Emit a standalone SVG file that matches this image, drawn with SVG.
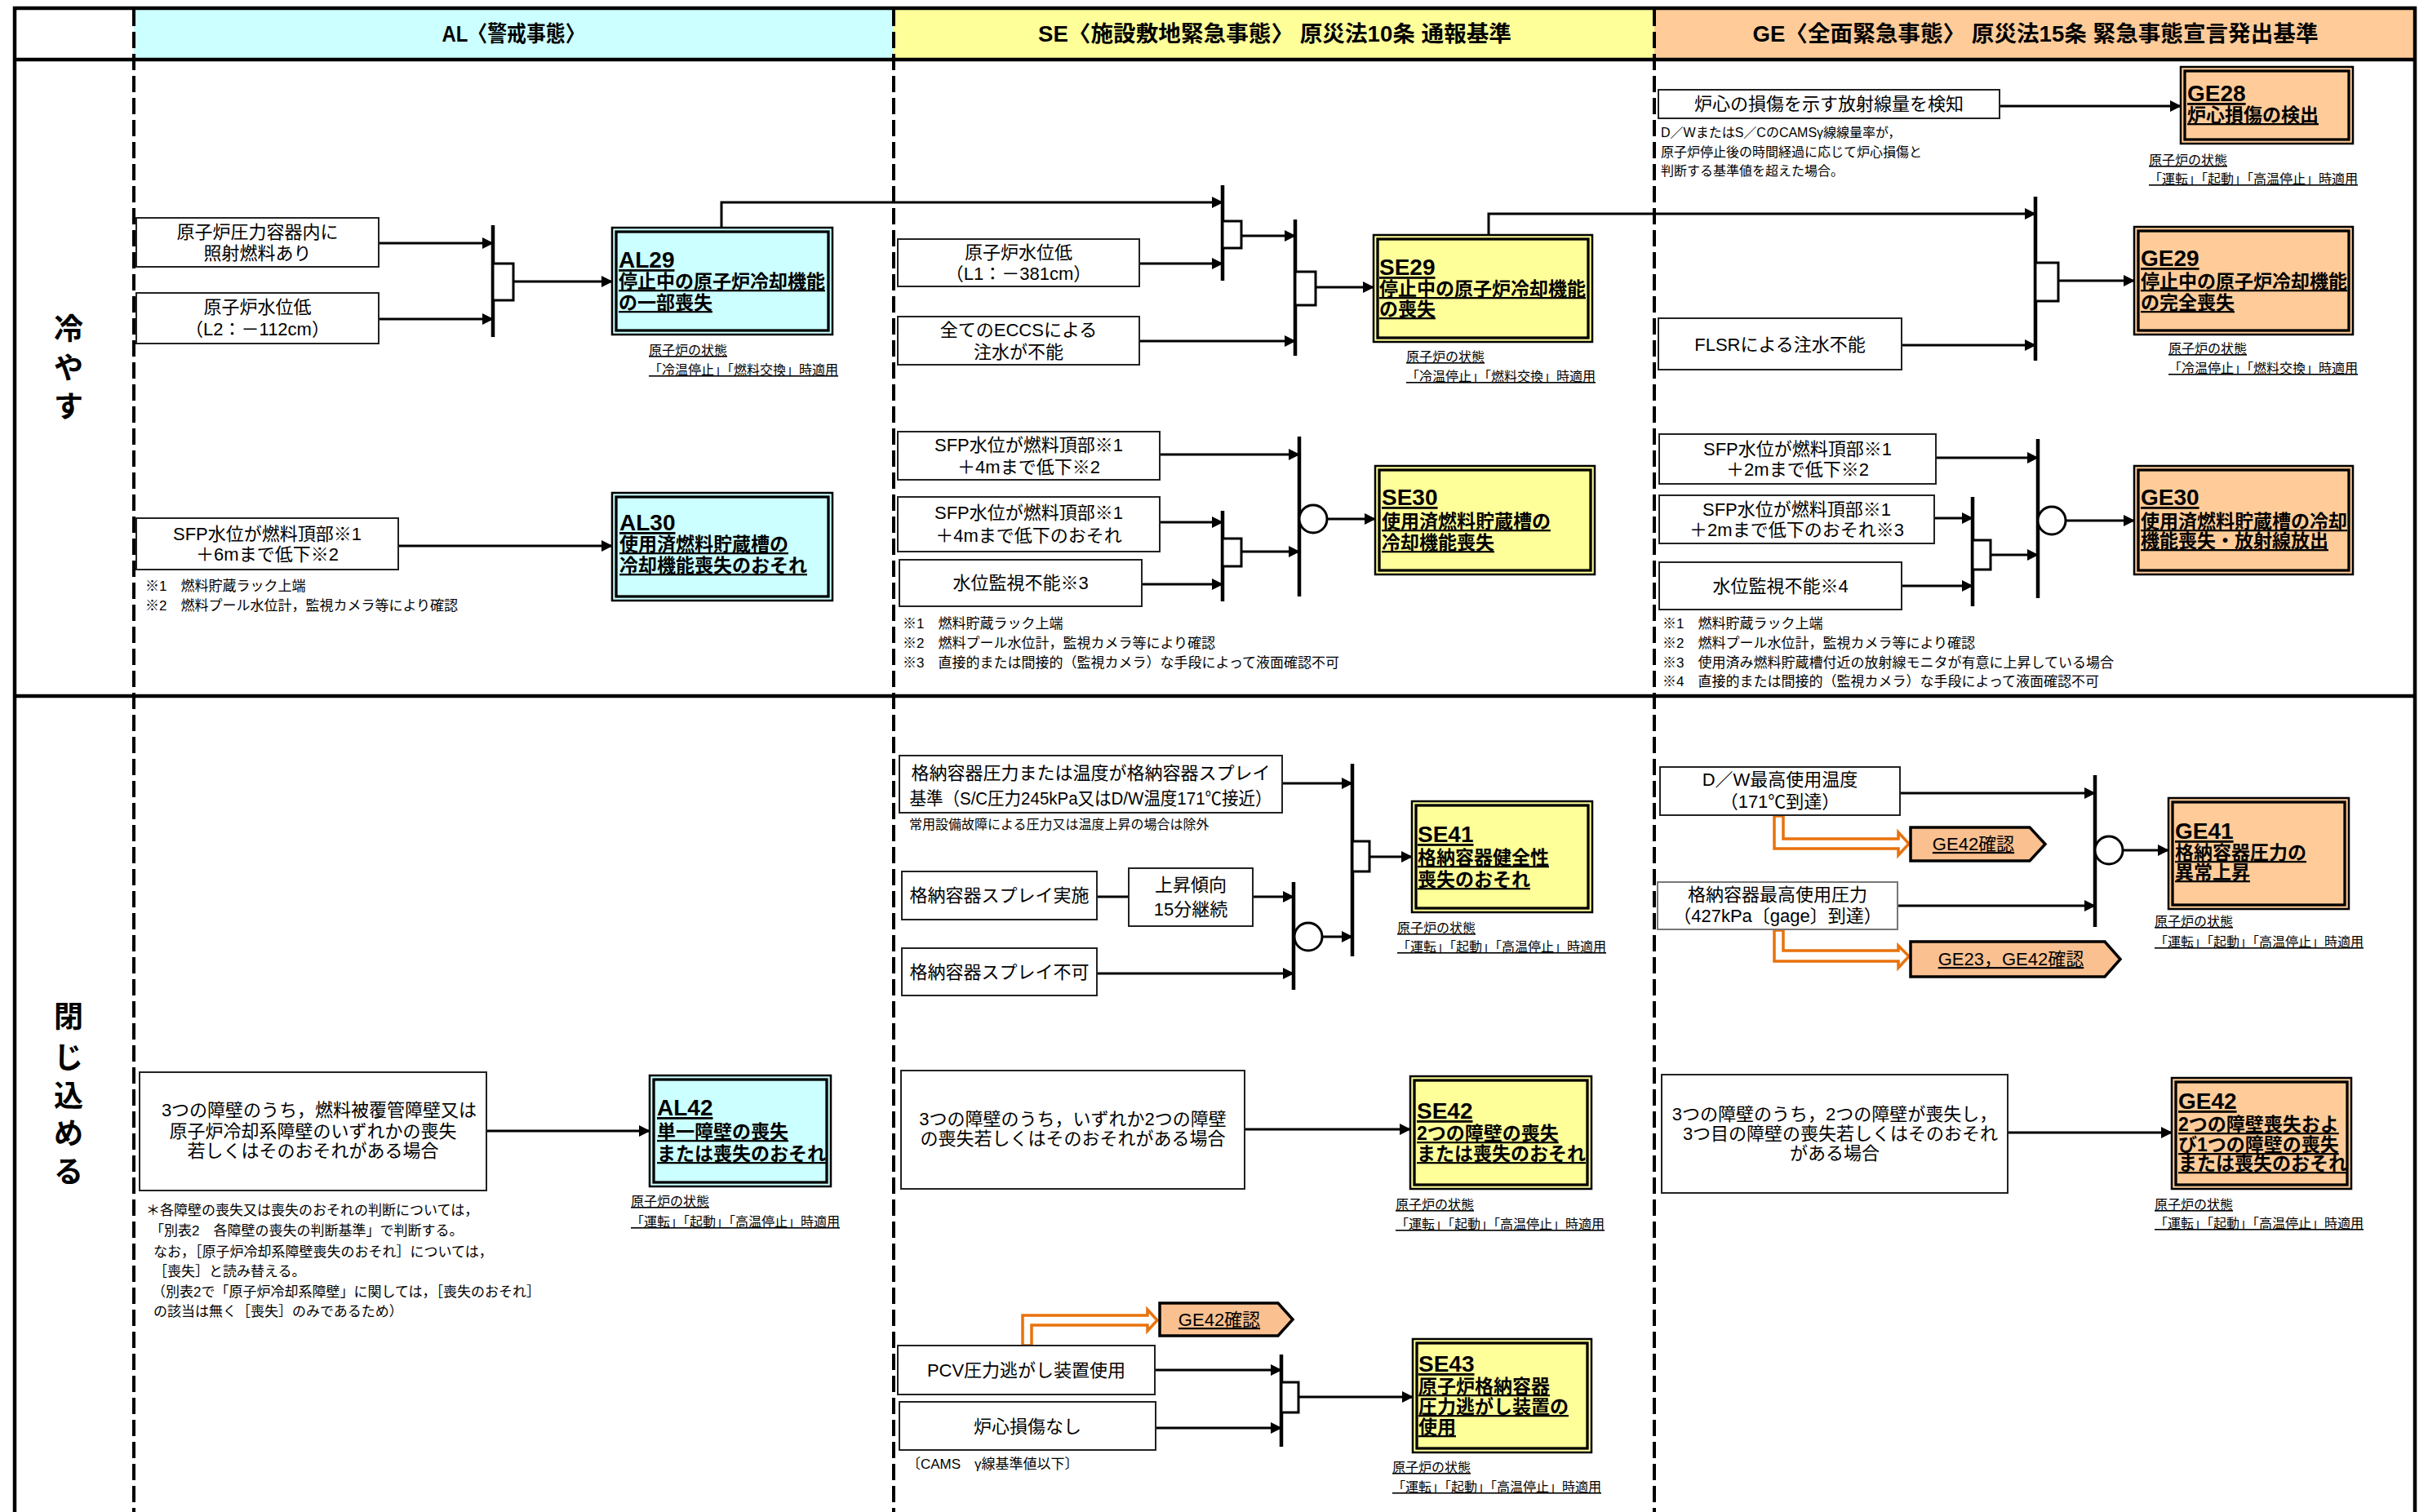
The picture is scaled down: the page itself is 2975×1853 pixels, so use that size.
<svg xmlns="http://www.w3.org/2000/svg" width="2975" height="1853" viewBox="0 0 2975 1853">
<defs>
<style>
text{font-family:"Liberation Sans","Noto Sans CJK JP",sans-serif;fill:#000}
.hd{font-size:27px;font-weight:bold;text-anchor:middle}
.side{font-size:36px;font-weight:bold;text-anchor:middle}
.bx{fill:#fff;stroke:#222;stroke-width:2}
.t{font-size:22px;text-anchor:middle}
.ttl{font-size:28px;font-weight:bold;text-decoration:underline}
.tl{font-size:23px;font-weight:bold;text-decoration:underline}
.lab{font-size:16px;text-decoration:underline}
.fn{font-size:17px}
.al{fill:#CCFFFF}
.se{fill:#FFFF99}
.ge{fill:#FFCC99}
.ev{stroke:#000;stroke-width:2.5}
.evi{fill:none;stroke:#000;stroke-width:3.3}
.ln{stroke:#000;stroke-width:3;fill:none}
.ar{stroke:#000;stroke-width:3;fill:none;marker-end:url(#ah)}
.bar{stroke:#000;stroke-width:4.5}
.gate{fill:#fff;stroke:#000;stroke-width:3}
.oa{fill:#fff;stroke:#E8720C;stroke-width:3.5;stroke-linejoin:miter}
.tag{fill:#FAC090;stroke:#000;stroke-width:3.5}
.tagt{font-size:22px;text-anchor:middle;text-decoration:underline}
.frame{stroke:#000;stroke-width:4.5;fill:none}
.dash{stroke:#000;stroke-width:4;stroke-dasharray:20 7;fill:none}
</style>
<marker id="ah" markerUnits="userSpaceOnUse" markerWidth="14" markerHeight="14" refX="13" refY="7" orient="auto"><path d="M0,0 L14,7 L0,14 z" fill="#000"/></marker>
</defs>
<rect width="2975" height="1853" fill="#fff"/>
<g id="header">
<rect x="164" y="12" width="931" height="61" class="al"/>
<rect x="1095" y="12" width="932" height="61" class="se"/>
<rect x="2027" y="12" width="932" height="61" class="ge"/>
<text class="hd" x="629" y="51" textLength="175" lengthAdjust="spacingAndGlyphs">AL〈警戒事態〉</text>
<text class="hd" x="1562" y="51" textLength="580" lengthAdjust="spacingAndGlyphs">SE〈施設敷地緊急事態〉 原災法10条 通報基準</text>
<text class="hd" x="2494" y="51" textLength="693" lengthAdjust="spacingAndGlyphs">GE〈全面緊急事態〉 原災法15条 緊急事態宣言発出基準</text>
</g>
<g id="frame">
<line class="frame" x1="16" y1="10" x2="2961" y2="10"/>
<line class="frame" x1="16" y1="73" x2="2961" y2="73"/>
<line class="frame" x1="18" y1="8" x2="18" y2="1853"/>
<line class="frame" x1="2959" y1="8" x2="2959" y2="1853"/>
<line class="frame" x1="16" y1="853" x2="2961" y2="853"/>
<line class="dash" x1="164" y1="12" x2="164" y2="1853"/>
<line class="dash" x1="1095" y1="12" x2="1095" y2="1853"/>
<line class="dash" x1="2027" y1="12" x2="2027" y2="1853"/>
<text class="side" x="84" y="416">冷</text>
<text class="side" x="84" y="464">や</text>
<text class="side" x="84" y="511">す</text>
<text class="side" x="84" y="1259">閉</text>
<text class="side" x="84" y="1309">じ</text>
<text class="side" x="84" y="1356">込</text>
<text class="side" x="84" y="1402">め</text>
<text class="side" x="84" y="1449">る</text>
</g>

<g id="connectors">
<line class="ar" x1="464" y1="298" x2="604" y2="298"/>
<line class="ar" x1="464" y1="391" x2="604" y2="391"/>
<line class="ar" x1="629" y1="345" x2="750" y2="345"/>
<polyline class="ar" points="884,280 884,248 1498,248"/>
<line class="ar" x1="1396" y1="323" x2="1498" y2="323"/>
<line class="ar" x1="1521" y1="289" x2="1587" y2="289"/>
<line class="ar" x1="1396" y1="418" x2="1587" y2="418"/>
<line class="ar" x1="1612" y1="352" x2="1683" y2="352"/>
<polyline class="ar" points="1824,288 1824,262 2494,262"/>
<line class="ar" x1="2330" y1="423" x2="2494" y2="423"/>
<line class="ar" x1="2522" y1="344" x2="2615" y2="344"/>
<line class="ar" x1="2450" y1="130" x2="2672" y2="130"/>
<line class="ar" x1="488" y1="669" x2="750" y2="669"/>
<line class="ar" x1="1421" y1="557" x2="1592" y2="557"/>
<line class="ar" x1="1421" y1="640" x2="1498" y2="640"/>
<line class="ar" x1="1399" y1="716" x2="1498" y2="716"/>
<line class="ar" x1="1521" y1="676" x2="1592" y2="676"/>
<line class="ar" x1="1626" y1="636" x2="1685" y2="636"/>
<line class="ar" x1="2372" y1="561" x2="2497" y2="561"/>
<line class="ar" x1="2370" y1="635" x2="2417" y2="635"/>
<line class="ar" x1="2330" y1="718" x2="2417" y2="718"/>
<line class="ar" x1="2439" y1="680" x2="2497" y2="680"/>
<line class="ar" x1="2530" y1="638" x2="2615" y2="638"/>
<line class="ar" x1="1571" y1="960" x2="1657" y2="960"/>
<line class="ln" x1="1344" y1="1099" x2="1383" y2="1099"/>
<line class="ar" x1="1535" y1="1099" x2="1585" y2="1099"/>
<line class="ar" x1="1344" y1="1193" x2="1585" y2="1193"/>
<line class="ar" x1="1620" y1="1148" x2="1657" y2="1148"/>
<line class="ar" x1="1678" y1="1050" x2="1730" y2="1050"/>
<line class="ar" x1="2328" y1="972" x2="2567" y2="972"/>
<line class="ar" x1="2325" y1="1110" x2="2567" y2="1110"/>
<line class="ar" x1="2601" y1="1042" x2="2657" y2="1042"/>
<line class="ar" x1="596" y1="1386" x2="796" y2="1386"/>
<line class="ar" x1="1525" y1="1384" x2="1728" y2="1384"/>
<line class="ar" x1="1415" y1="1679" x2="1570" y2="1679"/>
<line class="ar" x1="1416" y1="1750" x2="1570" y2="1750"/>
<line class="ar" x1="1591" y1="1712" x2="1731" y2="1712"/>
<line class="ar" x1="2460" y1="1388" x2="2661" y2="1388"/>
<polygon class="oa" points="2174,1000 2185,1000 2185,1028 2326,1028 2326,1020 2339,1034 2326,1048 2326,1040 2174,1040"/>
<polygon class="oa" points="2174,1140 2185,1140 2185,1165 2326,1165 2326,1159 2339,1172 2326,1186 2326,1178 2174,1178"/>
<polygon class="oa" points="1253,1649 1253,1612 1406,1612 1406,1605 1418,1618 1406,1631 1406,1624 1264,1624 1264,1649"/>
</g>

<g id="gates">
<line class="bar" x1="604" y1="276" x2="604" y2="413"/><rect class="gate" x="604" y="323" width="25" height="45"/>
<line class="bar" x1="1498" y1="227" x2="1498" y2="344"/><rect class="gate" x="1498" y="271" width="23" height="33"/>
<line class="bar" x1="1587" y1="269" x2="1587" y2="436"/><rect class="gate" x="1587" y="333" width="25" height="41"/>
<line class="bar" x1="2494" y1="241" x2="2494" y2="442"/><rect class="gate" x="2494" y="322" width="28" height="47"/>
<line class="bar" x1="1498" y1="626" x2="1498" y2="737"/><rect class="gate" x="1498" y="660" width="23" height="34"/>
<line class="bar" x1="1592" y1="535" x2="1592" y2="731"/><circle class="gate" cx="1609" cy="636" r="17"/>
<line class="bar" x1="2417" y1="609" x2="2417" y2="743"/><rect class="gate" x="2417" y="662" width="22" height="36"/>
<line class="bar" x1="2497" y1="538" x2="2497" y2="733"/><circle class="gate" cx="2514" cy="638" r="17"/>
<line class="bar" x1="1657" y1="936" x2="1657" y2="1172"/><rect class="gate" x="1657" y="1031" width="21" height="37"/>
<line class="bar" x1="1585" y1="1081" x2="1585" y2="1213"/><circle class="gate" cx="1603" cy="1148" r="17"/>
<line class="bar" x1="2567" y1="950" x2="2567" y2="1136"/><circle class="gate" cx="2584" cy="1042" r="17"/>
<line class="bar" x1="1570" y1="1660" x2="1570" y2="1773"/><rect class="gate" x="1570" y="1694" width="21" height="37"/>
</g>

<g id="A1"><rect class="bx" x="167" y="267" width="297" height="60"/><text class="t"><tspan x="315.5" y="292">原子炉圧力容器内に</tspan><tspan x="315.5" y="318">照射燃料あり</tspan></text></g>
<g id="A2"><rect class="bx" x="167" y="359" width="297" height="62"/><text class="t"><tspan x="315.5" y="384">原子炉水位低</tspan><tspan x="315.5" y="411">（L2：－112cm）</tspan></text></g>
<g id="AL29"><rect class="ev al" x="750" y="279" width="270" height="131"/><rect class="evi" x="755" y="284" width="260" height="121"/>
<text class="ttl" x="758" y="328">AL29</text><text class="tl" x="758" y="353">停止中の原子炉冷却機能</text><text class="tl" x="758" y="379">の一部喪失</text>
<text class="lab" x="795" y="435">原子炉の状態</text><text class="lab" x="795" y="459">「冷温停止」「燃料交換」時適用</text></g>
<g id="A3"><rect class="bx" x="167" y="635" width="321" height="63"/><text class="t"><tspan x="327.5" y="662">SFP水位が燃料頂部※1</tspan><tspan x="327.5" y="687">＋6mまで低下※2</tspan></text></g>
<g id="AL30"><rect class="ev al" x="750" y="604" width="270" height="132"/><rect class="evi" x="755" y="609" width="260" height="122"/>
<text class="ttl" x="759" y="650">AL30</text><text class="tl" x="759" y="675">使用済燃料貯蔵槽の</text><text class="tl" x="759" y="701">冷却機能喪失のおそれ</text></g>
<g id="AL-notes1"><text class="fn" x="178" y="724">※1　燃料貯蔵ラック上端</text><text class="fn" x="178" y="748">※2　燃料プール水位計，監視カメラ等により確認</text></g>
<g id="A4"><rect class="bx" x="171" y="1314" width="425" height="145"/><text class="t"><tspan x="391" y="1368">3つの障壁のうち，燃料被覆管障壁又は</tspan><tspan x="383.5" y="1394">原子炉冷却系障壁のいずれかの喪失</tspan><tspan x="383.5" y="1418">若しくはそのおそれがある場合</tspan></text></g>
<g id="AL42"><rect class="ev al" x="796" y="1318" width="222" height="136"/><rect class="evi" x="801" y="1323" width="212" height="126"/>
<text class="ttl" x="805" y="1367">AL42</text><text class="tl" x="805" y="1395">単一障壁の喪失</text><text class="tl" x="805" y="1422">または喪失のおそれ</text>
<text class="lab" x="773" y="1478">原子炉の状態</text><text class="lab" x="773" y="1503">「運転」「起動」「高温停止」時適用</text></g>
<g id="AL-notes2"><text class="fn" x="179" y="1489">＊各障壁の喪失又は喪失のおそれの判断については，</text><text class="fn" x="184" y="1514">「別表2　各障壁の喪失の判断基準」で判断する。</text><text class="fn" x="188" y="1540">なお，［原子炉冷却系障壁喪失のおそれ］については，</text><text class="fn" x="188" y="1564">［喪失］と読み替える。</text><text class="fn" x="186" y="1589">（別表2で「原子炉冷却系障壁」に関しては，［喪失のおそれ］</text><text class="fn" x="188" y="1613">の該当は無く［喪失］のみであるため）</text></g>

<g id="S1"><rect class="bx" x="1100" y="293" width="296" height="58"/><text class="t"><tspan x="1248" y="317">原子炉水位低</tspan><tspan x="1248" y="343">（L1：－381cm）</tspan></text></g>
<g id="S2"><rect class="bx" x="1100" y="388" width="296" height="59"/><text class="t"><tspan x="1248" y="412">全てのECCSによる</tspan><tspan x="1248" y="439">注水が不能</tspan></text></g>
<g id="SE29"><rect class="ev se" x="1683" y="288" width="268" height="131"/><rect class="evi" x="1688" y="293" width="258" height="121"/>
<text class="ttl" x="1690" y="337">SE29</text><text class="tl" x="1690" y="362">停止中の原子炉冷却機能</text><text class="tl" x="1690" y="387">の喪失</text>
<text class="lab" x="1723" y="443">原子炉の状態</text><text class="lab" x="1723" y="467">「冷温停止」「燃料交換」時適用</text></g>
<g id="S3"><rect class="bx" x="1100" y="529" width="321" height="59"/><text class="t"><tspan x="1260.5" y="553">SFP水位が燃料頂部※1</tspan><tspan x="1260.5" y="580">＋4mまで低下※2</tspan></text></g>
<g id="S4"><rect class="bx" x="1100" y="609" width="321" height="67"/><text class="t"><tspan x="1260.5" y="636">SFP水位が燃料頂部※1</tspan><tspan x="1260.5" y="664">＋4mまで低下のおそれ</tspan></text></g>
<g id="S5"><rect class="bx" x="1102" y="686" width="297" height="57"/><text class="t" x="1250.5" y="722">水位監視不能※3</text></g>
<g id="SE30"><rect class="ev se" x="1685" y="571" width="269" height="133"/><rect class="evi" x="1690" y="576" width="259" height="123"/>
<text class="ttl" x="1693" y="619">SE30</text><text class="tl" x="1693" y="647">使用済燃料貯蔵槽の</text><text class="tl" x="1693" y="673">冷却機能喪失</text></g>
<g id="SE-notes1"><text class="fn" x="1106" y="770">※1　燃料貯蔵ラック上端</text><text class="fn" x="1106" y="794">※2　燃料プール水位計，監視カメラ等により確認</text><text class="fn" x="1106" y="818">※3　直接的または間接的（監視カメラ）な手段によって液面確認不可</text></g>
<g id="S6"><rect class="bx" x="1102" y="926" width="469" height="70"/><text class="t" x="1336.5" y="955">格納容器圧力または温度が格納容器スプレイ</text><text class="t" x="1336.5" y="986" textLength="444" lengthAdjust="spacingAndGlyphs">基準（S/C圧力245kPa又はD/W温度171℃接近）</text>
<text class="fn" x="1114" y="1016" style="font-size:16px">常用設備故障による圧力又は温度上昇の場合は除外</text></g>
<g id="S7"><rect class="bx" x="1105" y="1068" width="239" height="59"/><text class="t" x="1224.5" y="1105">格納容器スプレイ実施</text></g>
<g id="S8"><rect class="bx" x="1383" y="1064" width="152" height="71"/><text class="t"><tspan x="1459" y="1092">上昇傾向</tspan><tspan x="1459" y="1122">15分継続</tspan></text></g>
<g id="S9"><rect class="bx" x="1105" y="1162" width="239" height="58"/><text class="t" x="1224.5" y="1199">格納容器スプレイ不可</text></g>
<g id="SE41"><rect class="ev se" x="1730" y="982" width="221" height="136"/><rect class="evi" x="1735" y="987" width="211" height="126"/>
<text class="ttl" x="1737" y="1032">SE41</text><text class="tl" x="1737" y="1059">格納容器健全性</text><text class="tl" x="1737" y="1086">喪失のおそれ</text>
<text class="lab" x="1712" y="1143">原子炉の状態</text><text class="lab" x="1712" y="1166">「運転」「起動」「高温停止」時適用</text></g>
<g id="S10"><rect class="bx" x="1104" y="1312" width="421" height="145"/><text class="t"><tspan x="1314.5" y="1379">3つの障壁のうち，いずれか2つの障壁</tspan><tspan x="1314.5" y="1403">の喪失若しくはそのおそれがある場合</tspan></text></g>
<g id="SE42"><rect class="ev se" x="1728" y="1319" width="222" height="138"/><rect class="evi" x="1733" y="1324" width="212" height="128"/>
<text class="ttl" x="1736" y="1371">SE42</text><text class="tl" x="1736" y="1397">2つの障壁の喪失</text><text class="tl" x="1736" y="1422">または喪失のおそれ</text>
<text class="lab" x="1710" y="1482">原子炉の状態</text><text class="lab" x="1710" y="1506">「運転」「起動」「高温停止」時適用</text></g>
<g id="tag-SE43"><polygon class="tag" points="1421,1597 1566,1597 1584,1617 1566,1637 1421,1637"/><text class="tagt" x="1494" y="1625">GE42確認</text></g>
<g id="S11"><rect class="bx" x="1100" y="1649" width="315" height="60"/><text class="t" x="1257.5" y="1687">PCV圧力逃がし装置使用</text></g>
<g id="S12"><rect class="bx" x="1102" y="1718" width="314" height="59"/><text class="t" x="1259" y="1756">炉心損傷なし</text>
<text class="fn" x="1111" y="1800">〔CAMS　γ線基準値以下〕</text></g>
<g id="SE43"><rect class="ev se" x="1731" y="1641" width="219" height="139"/><rect class="evi" x="1736" y="1646" width="209" height="129"/>
<text class="ttl" x="1738" y="1681">SE43</text><text class="tl" x="1738" y="1707">原子炉格納容器</text><text class="tl" x="1738" y="1732">圧力逃がし装置の</text><text class="tl" x="1738" y="1757">使用</text>
<text class="lab" x="1706" y="1804">原子炉の状態</text><text class="lab" x="1706" y="1828">「運転」「起動」「高温停止」時適用</text></g>

<g id="G1"><rect class="bx" x="2032" y="110" width="418" height="35"/><text class="t" x="2241" y="135">炉心の損傷を示す放射線量を検知</text>
<text class="fn" x="2035" y="168" style="font-size:16px">D／WまたはS／CのCAMSγ線線量率が，</text><text class="fn" x="2035" y="192" style="font-size:16px">原子炉停止後の時間経過に応じて炉心損傷と</text><text class="fn" x="2035" y="215" style="font-size:16px">判断する基準値を超えた場合。</text></g>
<g id="GE28"><rect class="ev ge" x="2672" y="82" width="211" height="94"/><rect class="evi" x="2677" y="87" width="201" height="84"/>
<text class="ttl" x="2680" y="124">GE28</text><text class="tl" x="2680" y="149">炉心損傷の検出</text>
<text class="lab" x="2633" y="202">原子炉の状態</text><text class="lab" x="2633" y="225">「運転」「起動」「高温停止」時適用</text></g>
<g id="G2"><rect class="bx" x="2032" y="390" width="298" height="63"/><text class="t" x="2181" y="430">FLSRによる注水不能</text></g>
<g id="GE29"><rect class="ev ge" x="2615" y="278" width="268" height="132"/><rect class="evi" x="2620" y="283" width="258" height="122"/>
<text class="ttl" x="2623" y="326">GE29</text><text class="tl" x="2623" y="353">停止中の原子炉冷却機能</text><text class="tl" x="2623" y="379">の完全喪失</text>
<text class="lab" x="2657" y="433">原子炉の状態</text><text class="lab" x="2657" y="457">「冷温停止」「燃料交換」時適用</text></g>
<g id="G3"><rect class="bx" x="2033" y="532" width="339" height="61"/><text class="t"><tspan x="2202.5" y="558">SFP水位が燃料頂部※1</tspan><tspan x="2202.5" y="583">＋2mまで低下※2</tspan></text></g>
<g id="G4"><rect class="bx" x="2033" y="607" width="337" height="59"/><text class="t"><tspan x="2201.5" y="632">SFP水位が燃料頂部※1</tspan><tspan x="2201.5" y="657">＋2mまで低下のおそれ※3</tspan></text></g>
<g id="G5"><rect class="bx" x="2033" y="689" width="297" height="58"/><text class="t" x="2181.5" y="726">水位監視不能※4</text></g>
<g id="GE30"><rect class="ev ge" x="2615" y="571" width="268" height="133"/><rect class="evi" x="2620" y="576" width="258" height="123"/>
<text class="ttl" x="2623" y="619">GE30</text><text class="tl" x="2623" y="647">使用済燃料貯蔵槽の冷却</text><text class="tl" x="2623" y="671">機能喪失・放射線放出</text></g>
<g id="GE-notes1"><text class="fn" x="2037" y="770">※1　燃料貯蔵ラック上端</text><text class="fn" x="2037" y="794">※2　燃料プール水位計，監視カメラ等により確認</text><text class="fn" x="2037" y="818">※3　使用済み燃料貯蔵槽付近の放射線モニタが有意に上昇している場合</text><text class="fn" x="2037" y="841">※4　直接的または間接的（監視カメラ）な手段によって液面確認不可</text></g>
<g id="G6"><rect class="bx" x="2034" y="940" width="294" height="59"/><text class="t"><tspan x="2181" y="963">D／W最高使用温度</tspan><tspan x="2181" y="990">（171℃到達）</tspan></text></g>
<g id="tag-GE42a"><polygon class="tag" points="2341,1014 2487,1014 2506,1034.5 2487,1055 2341,1055"/><text class="tagt" x="2418" y="1042">GE42確認</text></g>
<g id="G7"><rect class="bx" x="2031" y="1081" width="294" height="58" style="stroke:#777"/><text class="t"><tspan x="2178" y="1104">格納容器最高使用圧力</tspan><tspan x="2178" y="1130">（427kPa〔gage〕到達）</tspan></text></g>
<g id="tag-GE23"><polygon class="tag" points="2341,1154 2579,1154 2598,1175.5 2579,1197 2341,1197"/><text class="tagt" x="2464" y="1183">GE23，GE42確認</text></g>
<g id="GE41"><rect class="ev ge" x="2657" y="978" width="221" height="136"/><rect class="evi" x="2662" y="983" width="211" height="126"/>
<text class="ttl" x="2665" y="1028">GE41</text><text class="tl" x="2665" y="1053">格納容器圧力の</text><text class="tl" x="2665" y="1077">異常上昇</text>
<text class="lab" x="2640" y="1135">原子炉の状態</text><text class="lab" x="2640" y="1160">「運転」「起動」「高温停止」時適用</text></g>
<g id="G8"><rect class="bx" x="2036" y="1317" width="424" height="145"/><text class="t"><tspan x="2248" y="1373">3つの障壁のうち，2つの障壁が喪失し，</tspan><tspan x="2255" y="1397">3つ目の障壁の喪失若しくはそのおそれ</tspan><tspan x="2248" y="1421">がある場合</tspan></text></g>
<g id="GE42"><rect class="ev ge" x="2661" y="1321" width="220" height="136"/><rect class="evi" x="2666" y="1326" width="210" height="126"/>
<text class="ttl" x="2669" y="1359">GE42</text><text class="tl" x="2669" y="1386">2つの障壁喪失およ</text><text class="tl" x="2669" y="1411">び1つの障壁の喪失</text><text class="tl" x="2669" y="1434">または喪失のおそれ</text>
<text class="lab" x="2640" y="1482">原子炉の状態</text><text class="lab" x="2640" y="1505">「運転」「起動」「高温停止」時適用</text></g>
</svg>
